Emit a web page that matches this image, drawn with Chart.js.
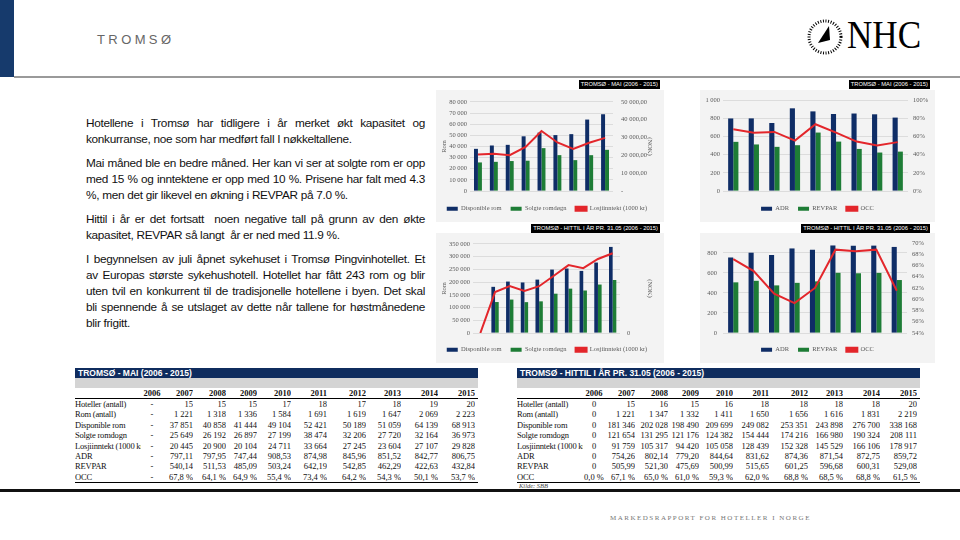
<!DOCTYPE html>
<html>
<head>
<meta charset="utf-8">
<script src="https://cdn.jsdelivr.net/npm/chart.js@4.4.0/dist/chart.umd.min.js"></script>
<style>
body{margin:0;width:960px;height:540px;position:relative;background:#fff;overflow:hidden;font-family:"Liberation Sans",Arial,sans-serif}
.abs{position:absolute}
#stripe{left:0;top:0;width:14px;height:77px;background:#163a6c}
#topline{left:14px;top:76px;width:946px;height:2px;background:#9a9a9a}
#title{left:97px;top:32px;font-size:13px;letter-spacing:3.4px;color:#666}
#nhc{left:847px;top:12px;font-family:"Liberation Serif",serif;font-size:39px;color:#000;transform:scaleX(0.9);transform-origin:left top}
#text{left:86px;top:115px;width:339px;font-size:11.8px;letter-spacing:-0.3px;line-height:16px;color:#111}
#text p{margin:0 0 8px 0}
#text .j{display:block;text-align:justify;text-align-last:justify;white-space:nowrap}
.panel{background:#f3f3f3}
.tag{background:#000;color:#fff;font-size:5.8px;line-height:9px;padding:0 2px;white-space:nowrap}
.tbl{width:403px;font-family:"Liberation Serif",serif;font-size:8.5px;color:#111}
.tbl .hd{background:#0f2c5e;color:#fff;font-family:"Liberation Sans",Arial,sans-serif;font-weight:bold;font-size:8.5px;height:10px;line-height:10px;padding-left:3px}
.tbl .band{background:#d4d4d4;height:10px}
.tbl table{border-collapse:collapse;width:403px;table-layout:fixed}
.tbl td{padding:0;height:10.4px;line-height:10.4px;text-align:right;white-space:nowrap;overflow:hidden}
.tbl td.l{text-align:left;letter-spacing:-0.2px}
.tbl td.c{text-align:center}
.tbl tr.yr td{font-weight:bold;height:10px;line-height:10px;border-bottom:1px solid #000}
.tbl tr.last td{border-bottom:1px solid #000}
#kilde{left:519px;top:482px;font-family:"Liberation Serif",serif;font-style:italic;font-size:6.5px;color:#444}
#bottomline{left:0;top:489px;width:960px;height:3px;background:#111}
#footer{left:610px;top:514px;font-family:"Liberation Serif",serif;font-size:7px;letter-spacing:1.5px;color:#777}
</style>
</head>
<body>
<div class="abs" id="stripe"></div>
<div class="abs" id="topline"></div>
<div class="abs" id="title">TROMSØ</div>
<svg class="abs" style="left:806px;top:18px" width="38" height="38" viewBox="0 0 38 38">
  <circle cx="19" cy="19" r="16" fill="none" stroke="#000" stroke-width="3" stroke-dasharray="1 1.6"/>
  <polygon points="23,8 12,25 24,22" fill="#000"/>
</svg>
<div class="abs" id="nhc">NHC</div>

<div class="abs" id="text">
  <p><span class="j">Hotellene i Tromsø har tidligere i år merket økt kapasitet og</span>konkurranse, noe som har medført fall I nøkkeltallene.</p>
  <p><span class="j">Mai måned ble en bedre måned. Her kan vi ser at solgte rom er opp</span><span class="j">med 15 % og inntektene er opp med 10 %. Prisene har falt med 4.3</span>%, men det gir likevel en økning i REVPAR på 7.0 %.</p>
  <p><span class="j">Hittil i år er det fortsatt &nbsp;noen negative tall på grunn av den økte</span>kapasitet, REVPAR så langt &nbsp;år er ned med 11.9 %.</p>
  <p><span class="j">I begynnelsen av juli åpnet sykehuset i Tromsø Pingvinhotellet. Et</span><span class="j">av Europas største sykehushotell. Hotellet har fått 243 rom og blir</span><span class="j">uten tvil en konkurrent til de tradisjonelle hotellene i byen. Det skal</span><span class="j">bli spennende å se utslaget av dette når tallene for høstmånedene</span>blir frigitt.</p>
</div>

<div class="abs tag" style="right:300px;top:80px">TROMSØ - MAI (2006 - 2015)</div>
<div class="abs tag" style="right:30px;top:80px">TROMSØ - MAI (2006 - 2015)</div>
<div class="abs tag" style="right:300px;top:224px">TROMSØ - HITTIL I ÅR PR. 31.05 (2006 - 2015)</div>
<div class="abs tag" style="right:30px;top:224px">TROMSØ - HITTIL I ÅR PR. 31.05 (2006 - 2015)</div>

<div class="abs panel" style="left:436px;top:90px;width:228px;height:132px"><canvas id="c1" width="228" height="132"></canvas></div>
<div class="abs panel" style="left:700px;top:90px;width:235px;height:132px"><canvas id="c2" width="235" height="132"></canvas></div>
<div class="abs panel" style="left:436px;top:233px;width:228px;height:130px"><canvas id="c3" width="228" height="130"></canvas></div>
<div class="abs panel" style="left:700px;top:233px;width:235px;height:130px"><canvas id="c4" width="235" height="130"></canvas></div>

<div class="abs tbl" id="t1" style="left:75px;top:368px"></div>
<div class="abs tbl" id="t2" style="left:517px;top:368px"></div>

<div class="abs" id="kilde">Kilde: SBB</div>
<div class="abs" id="bottomline"></div>
<div class="abs" id="footer">MARKEDSRAPPORT FOR HOTELLER I NORGE</div>

<script>
const years = ['2006', '2007', '2008', '2009', '2010', '2011', '2012', '2013', '2014', '2015'];

// MAI (2006 - 2015), 2006 has no figures
const hotelsMai  = [null, 15, 15, 15, 17, 18, 17, 18, 19, 20];
const roomsMai   = [null, 1221, 1318, 1336, 1584, 1691, 1619, 1647, 2069, 2223];
const availMai   = [null, 37851, 40858, 41444, 49104, 52421, 50189, 51059, 64139, 68913];
const soldMai    = [null, 25649, 26192, 26897, 27199, 38474, 32206, 27720, 32164, 36973];
const revenueMai = [null, 20445, 20900, 20104, 24711, 33664, 27245, 23604, 27107, 29828];
const adrMai     = [null, 797.11, 797.95, 747.44, 908.53, 874.98, 845.96, 851.52, 842.77, 806.75];
const revparMai  = [null, 540.14, 511.53, 485.09, 503.24, 642.19, 542.85, 462.29, 422.63, 432.84];
const occMai     = [null, 67.8, 64.1, 64.9, 55.4, 73.4, 64.2, 54.3, 50.1, 53.7];

// Hittil i år pr. 31.05
const hotelsYtd  = [0, 15, 16, 15, 16, 18, 18, 18, 18, 20];
const roomsYtd   = [0, 1221, 1347, 1332, 1411, 1650, 1656, 1616, 1831, 2219];
const availYtd   = [0, 181346, 202028, 198490, 209699, 249082, 253351, 243898, 276700, 338168];
const soldYtd    = [0, 121654, 131295, 121176, 124382, 154444, 174216, 166980, 190324, 208111];
const revenueYtd = [0, 91759, 105317, 94420, 105058, 128439, 152328, 145529, 166106, 178917];
const adrYtd     = [0, 754.26, 802.14, 779.20, 844.64, 831.62, 874.36, 871.54, 872.75, 859.72];
const revparYtd  = [0, 505.99, 521.30, 475.69, 500.99, 515.65, 601.25, 596.68, 600.31, 529.08];
const occYtd     = [0.0, 67.1, 65.0, 61.0, 59.3, 62.0, 68.8, 68.5, 68.8, 61.5];

const rowLabels = ['Hoteller (antall)', 'Rom (antall)', 'Disponible rom', 'Solgte romdogn',
                   'Losjiinntekt (1000 kr', 'ADR', 'REVPAR', 'OCC'];

const navy = '#0f2d66';
const green = '#1e7d36';
const red = '#e3262b';
const tickFont = { family: '"Liberation Serif", "Times New Roman", serif', size: 6.5 };
const tickColor = '#5a5a5a';

const fmt = n => String(Math.round(n)).replace(/\B(?=(\d{3})+(?!\d))/g, ' ');
const dec = (n, d) => n.toFixed(d).replace('.', ',');

function comboChart(id, o) {
    const fixW = w => s => { s.width = w; };
    return new Chart(document.getElementById(id), {
        data: {
            labels: o.labels,
            datasets: [
                { type: 'bar', label: o.names[0], data: o.bar1, backgroundColor: navy, yAxisID: 'y',
                  categoryPercentage: 0.5, barPercentage: 1 },
                { type: 'bar', label: o.names[1], data: o.bar2, backgroundColor: green, yAxisID: 'y',
                  categoryPercentage: 0.5, barPercentage: 1 },
                { type: 'line', label: o.names[2], data: o.line, borderColor: red, backgroundColor: red,
                  borderWidth: 2, pointRadius: 0, tension: 0, yAxisID: 'y1', order: -1 }
            ]
        },
        options: {
            responsive: false,
            animation: false,
            layout: { padding: { top: o.top, right: o.padRight || 0, left: 0, bottom: 0 } },
            plugins: {
                tooltip: { enabled: false },
                legend: {
                    position: 'bottom',
                    labels: {
                        font: tickFont, color: tickColor, boxWidth: 11, boxHeight: 4, padding: 9,
                        sort: (a, b) => a.datasetIndex - b.datasetIndex
                    }
                }
            },
            scales: {
                x: {
                    grid: { display: false, drawTicks: false }, border: { display: false },
                    ticks: { font: tickFont, color: tickColor, padding: 4, maxRotation: 0, autoSkip: false },
                    afterFit: s => { s.height = o.xh; }
                },
                y: {
                    min: 0, max: o.yMax,
                    ticks: { stepSize: o.yStep, font: tickFont, color: tickColor, padding: o.yPad, callback: v => fmt(v) },
                    grid: { color: '#d6d6d6', lineWidth: 0.8, drawTicks: false }, border: { display: false },
                    title: { display: !!o.yTitle, text: o.yTitle, font: tickFont, color: tickColor },
                    afterFit: fixW(o.yW)
                },
                y1: {
                    position: 'right', min: o.y1Min, max: o.y1Max,
                    ticks: { stepSize: o.y1Step, font: tickFont, color: tickColor, padding: o.y1Pad, callback: o.y1Fmt },
                    grid: { display: false, drawTicks: false }, border: { display: false },
                    title: { display: !!o.y1Title, text: o.y1Title, font: tickFont, color: tickColor },
                    afterFit: fixW(o.y1W)
                }
            }
        }
    });
}

comboChart('c1', {
    labels: years.slice(1), bar1: availMai.slice(1), bar2: soldMai.slice(1), line: revenueMai.slice(1),
    names: ['Disponible rom', 'Solgte romdøgn', 'Losjiinntekt (1000 kr)'],
    top: 10, xh: 5.5, padRight: 6,
    yMax: 80000, yStep: 10000, yPad: 3, yW: 34, yTitle: 'Rom',
    y1Min: 0, y1Max: 50000, y1Step: 10000, y1Pad: 8, y1W: 45, y1Title: '(NOK)',
    y1Fmt: v => v === 0 ? '-' : fmt(v) + ',00'
});

comboChart('c2', {
    labels: years.slice(1), bar1: adrMai.slice(1), bar2: revparMai.slice(1), line: occMai.slice(1),
    names: ['ADR', 'REVPAR', 'OCC'],
    top: 10, xh: 5.5,
    yMax: 1000, yStep: 100, yPad: 3, yW: 23,
    y1Min: 0, y1Max: 100, y1Step: 10, y1Pad: 5, y1W: 27,
    y1Fmt: v => v + '%'
});

comboChart('c3', {
    labels: years, bar1: availYtd, bar2: soldYtd, line: revenueYtd,
    names: ['Disponible rom', 'Solgte romdøgn', 'Losjiinntekt (1000 kr)'],
    top: 9, xh: 4.5, padRight: 6,
    yMax: 350000, yStep: 50000, yPad: 3, yW: 37, yTitle: 'Rom',
    y1Min: 0, y1Max: 200000, y1Step: 50000, y1Pad: 7, y1W: 38, y1Title: '(NOK)',
    y1Fmt: v => v === 0 ? '0' : ''
});

comboChart('c4', {
    labels: years.slice(1), bar1: adrYtd.slice(1), bar2: revparYtd.slice(1), line: occYtd.slice(1),
    names: ['ADR', 'REVPAR', 'OCC'],
    top: 9, xh: 4.5,
    yMax: 900, yStep: 100, yPad: 6, yW: 23,
    y1Min: 54, y1Max: 70, y1Step: 2, y1Pad: 5, y1W: 28,
    y1Fmt: v => v + '%'
});

// tables
const colW = [66, 22, 30, 33, 31, 34, 36, 39, 35, 37, 37];

function buildTable(id, title, rows, dash) {
    let h = '<div class="hd">' + title + '</div><div class="band"></div><table><colgroup>';
    colW.forEach(w => { h += '<col style="width:' + w + 'px">'; });
    h += '<col style="width:3px"></colgroup><tr class="yr"><td class="l"></td>';
    years.forEach((y, i) => { h += '<td class="' + (i === 0 ? 'c' : '') + '">' + y + '</td>'; });
    h += '<td></td></tr>';
    rows.forEach((r, ri) => {
        h += '<tr' + (ri === rows.length - 1 ? ' class="last"' : '') + '><td class="l">' + rowLabels[ri] + '</td>';
        r.values.forEach((v, i) => {
            const txt = v === null ? dash : r.f(v);
            h += '<td class="' + (i === 0 ? 'c' : '') + '">' + txt + '</td>';
        });
        h += '<td></td></tr>';
    });
    h += '</table>';
    document.getElementById(id).innerHTML = h;
}

const intF = v => fmt(v);
const decF = v => v === 0 ? '0' : dec(v, 2);

buildTable('t1', 'TROMSØ - MAI (2006 - 2015)', [
    { values: hotelsMai, f: intF }, { values: roomsMai, f: intF }, { values: availMai, f: intF },
    { values: soldMai, f: intF }, { values: revenueMai, f: intF }, { values: adrMai, f: decF },
    { values: revparMai, f: decF }, { values: occMai, f: v => dec(v, 1) + ' %' }
], '-');

buildTable('t2', 'TROMSØ - HITTIL I ÅR PR. 31.05 (2006 - 2015)', [
    { values: hotelsYtd, f: intF }, { values: roomsYtd, f: intF }, { values: availYtd, f: intF },
    { values: soldYtd, f: intF }, { values: revenueYtd, f: intF }, { values: adrYtd, f: decF },
    { values: revparYtd, f: decF }, { values: occYtd, f: v => dec(v, 1) + ' %' }
], '0');
</script>
</body>
</html>
